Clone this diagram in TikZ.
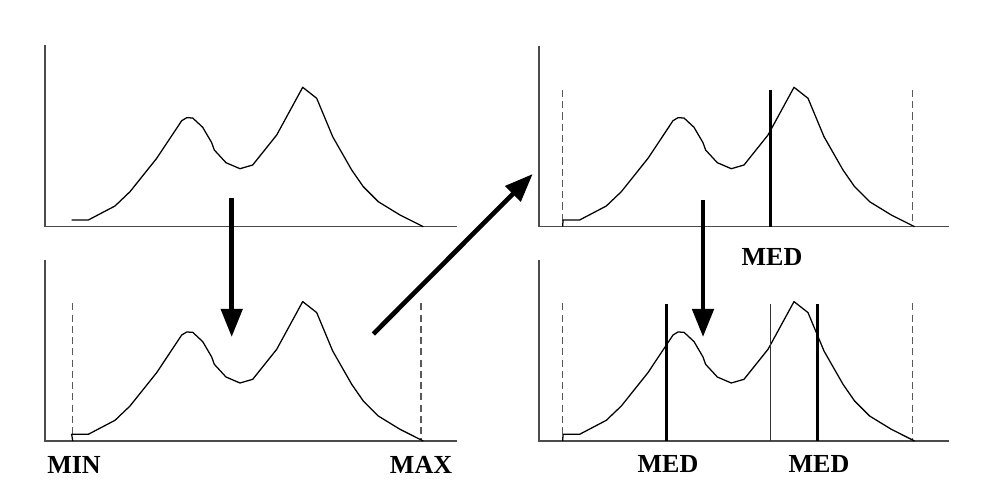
\documentclass[tikz,border=0pt]{standalone}
\usepackage{fontspec}
\setmainfont{Liberation Serif}
\usetikzlibrary{arrows.meta}

% Curva bimodal, relativa à origem do painel
\newcommand{\curvabimodal}[2]{%
\begin{scope}[shift={#1}]
\draw[curva] #2 (26.7,-6.7) -- (43.3,-6.7) -- (70,-20.7) -- (85,-35) -- (111.7,-68.4)
  -- (136.7,-106) -- (141.7,-109) -- (147.7,-108.7) -- (157.7,-99.4) -- (166.7,-84)
  -- (169.3,-76.7) -- (181,-64) -- (195,-58) -- (207.7,-61.7) -- (231.7,-91.7)
  -- (257.7,-139.4) -- (271.7,-128.4) -- (287.7,-90) -- (306.7,-56.7) -- (318.3,-40)
  -- (333.3,-25) -- (355,-11.7) -- (378.3,0);
\end{scope}}

\begin{document}
\begin{tikzpicture}[x=0.025cm,y=-0.025cm,
  eixo/.style={gray!60!black, line width=1.1pt},
  curva/.style={black, line width=0.9pt, line join=round},
  limite/.style={gray!70!black, dash pattern=on 5pt off 3pt, line width=1.1pt},
  mediana/.style={black, line width=2pt},
  medianafina/.style={gray!40!black, line width=1.1pt},
  seta/.style={line width=3.3pt, -{Triangle[length=20pt,width=15pt]}},
  rotulo/.style={font=\fontsize{18.5}{20}\selectfont\bfseries, inner sep=0pt}]

\useasboundingbox (0,0) rectangle (983,485);

% Painel superior esquerdo
\draw[eixo] (45,45) |- (457,226.7);
\curvabimodal{(45,226.7)}{}

% Painel inferior esquerdo
\draw[eixo] (45,260) |- (457,441);
\draw[limite] (72.7,303.3) -- (72.7,441);
\draw[limite] (421,303.3) -- (421,441);
\curvabimodal{(45,441)}{(27.7,0) --}
\node[rotulo] (min) at (74,465) {MIN};
\node[rotulo] (max) at (421,465) {MAX};

% Painel superior direito
\draw[eixo] (539,46) |- (949,226.7);
\draw[limite] (562.7,90) -- (562.7,226.7);
\draw[limite] (912.7,90) -- (912.7,226.7);
\curvabimodal{(536.3,226.7)}{(26.4,0) --}
\draw[mediana] (770.7,90) -- (770.7,226.7);
\node[rotulo] (med) at (772,257) {MED};

% Painel inferior direito
\draw[eixo] (539,260) |- (949,441);
\draw[limite] (562.7,303.3) -- (562.7,441);
\draw[limite] (912.7,303.3) -- (912.7,441);
\curvabimodal{(536.3,441)}{(26.4,0) --}
\draw[medianafina] (770.7,304) -- (770.7,441);
\draw[mediana] (666.7,304) -- (666.7,441);
\draw[mediana] (817.7,304) -- (817.7,441);
\node[rotulo] (medesq) at (668,464) {MED};
\node[rotulo] (meddir) at (819,464) {MED};

% Setas entre os passos
\coordinate (a1) at (231.7,198);
\coordinate (b1) at (231.7,337);
\coordinate (a2) at (373.3,334);
\coordinate (b2) at (532.7,174);
\coordinate (a3) at (703,200);
\coordinate (b3) at (703,337);
\draw[seta] (a1) -- (b1);
\draw[seta] (a2) -- (b2);
\draw[seta] (a3) -- (b3);

\end{tikzpicture}
\end{document}
